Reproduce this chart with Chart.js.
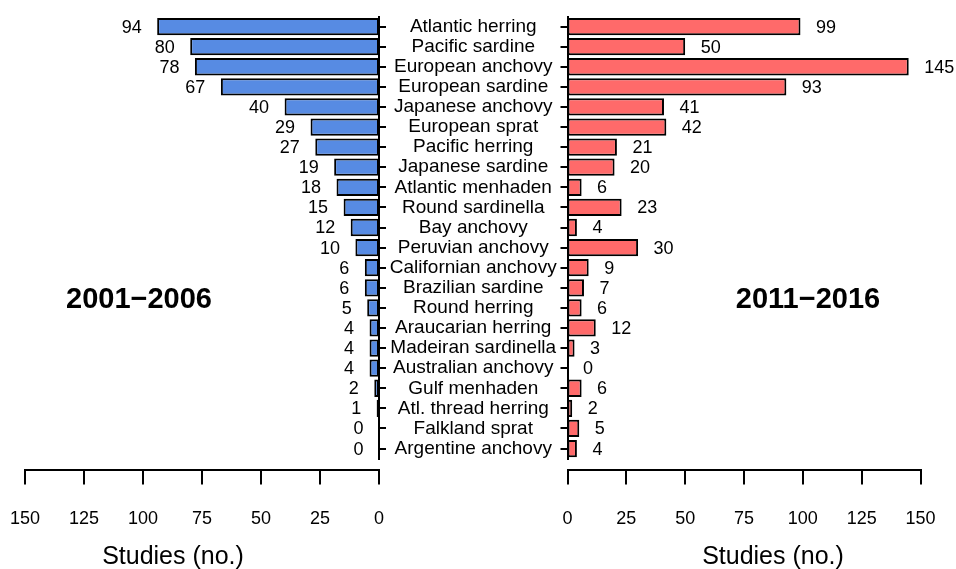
<!DOCTYPE html>
<html>
<head>
<meta charset="utf-8">
<script src="https://cdn.jsdelivr.net/npm/chart.js@4/dist/chart.umd.min.js"></script>
<style>
  html, body { margin: 0; padding: 0; background: #fff; }
  #wrap { position: relative; width: 956px; height: 569px; overflow: hidden; }
  #wrap canvas { position: absolute; left: 0; top: 0; }
  .txt {
    position: absolute;
    transform: translate(-50%, -50%);
    font-family: "Liberation Sans", Arial, sans-serif;
    color: #000;
    white-space: nowrap;
    line-height: 1;
  }
  .period { font-size: 29px; font-weight: bold; }
  .xtitle { font-size: 25px; }
</style>
</head>
<body>
<div id="wrap">
  <canvas id="left" width="956" height="569"></canvas>
  <canvas id="right" width="956" height="569"></canvas>
  <div class="txt period" style="left:139px; top:298px;">2001−2006</div>
  <div class="txt period" style="left:808px; top:298px;">2011−2016</div>
  <div class="txt xtitle" style="left:173px; top:555px;">Studies (no.)</div>
  <div class="txt xtitle" style="left:773px; top:555px;">Studies (no.)</div>
</div>
<script>
  // species, top to bottom
  const species = [
    "Atlantic herring", "Pacific sardine", "European anchovy", "European sardine",
    "Japanese anchovy", "European sprat", "Pacific herring", "Japanese sardine",
    "Atlantic menhaden", "Round sardinella", "Bay anchovy", "Peruvian anchovy",
    "Californian anchovy", "Brazilian sardine", "Round herring", "Araucarian herring",
    "Madeiran sardinella", "Australian anchovy", "Gulf menhaden", "Atl. thread herring",
    "Falkland sprat", "Argentine anchovy"
  ];
  const studies2001_2006 = [94, 80, 78, 67, 40, 29, 27, 19, 18, 15, 12, 10, 6, 6, 5, 4, 4, 4, 2, 1, 0, 0];
  const studies2011_2016 = [99, 50, 145, 93, 41, 42, 21, 20, 6, 23, 4, 30, 9, 7, 6, 12, 3, 0, 6, 2, 5, 4];
  const xTickValues = [0, 25, 50, 75, 100, 125, 150];

  const FONT = '"Liberation Sans", Arial, sans-serif';
  const BLUE = "#578be3";
  const RED = "#ff6a6a";

  // center the species names between the two axis lines
  const mctx = document.createElement("canvas").getContext("2d");
  mctx.font = "19px " + FONT;
  const widest = Math.max(...species.map((s) => mctx.measureText(s).width));
  const labelPad = 94.25 - 7 - widest / 2;

  // numbers next to the bar ends
  const valueLabels = {
    id: "valueLabels",
    afterDatasetsDraw(chart, args, opts) {
      const ctx = chart.ctx;
      const meta = chart.getDatasetMeta(0);
      const vals = chart.data.datasets[0].data;
      ctx.save();
      ctx.font = "18px " + FONT;
      ctx.fillStyle = "#000";
      ctx.textBaseline = "middle";
      ctx.textAlign = opts.side < 0 ? "right" : "left";
      meta.data.forEach((bar, i) => {
        ctx.fillText(String(vals[i]), bar.x + opts.side * 15.5, bar.y + 1);
      });
      ctx.restore();
    },
  };

  function panel(canvasId, values, color, isLeft) {
    const xCommon = {
      type: "linear",
      min: 0,
      max: 150,
      reverse: isLeft,
    };
    return new Chart(document.getElementById(canvasId), {
      type: "bar",
      data: {
        labels: species,
        datasets: [{
          data: values,
          backgroundColor: color,
          borderColor: "#000",
          borderWidth: 2,
          borderSkipped: false,
          barPercentage: 0.86,
          categoryPercentage: 1,
        }],
      },
      plugins: [valueLabels],
      options: {
        indexAxis: "y",
        responsive: false,
        animation: false,
        events: [],
        layout: {
          padding: isLeft
            ? { top: 16.5, bottom: 37.4, left: 25, right: 388 }
            : { top: 16.5, bottom: 37.4, left: 557.5, right: 35.5 },
        },
        plugins: {
          legend: { display: false },
          tooltip: { enabled: false },
          valueLabels: { side: isLeft ? -1 : 1 },
        },
        scales: {
          y: {
            type: "category",
            position: isLeft ? "right" : "left",
            offset: true,
            grid: {
              display: true,
              offset: false,
              drawOnChartArea: false,
              drawTicks: true,
              tickLength: 7,
              color: "#000",
              lineWidth: 2,
            },
            border: { display: true, color: "#000", width: 2 },
            ticks: {
              display: isLeft,
              autoSkip: false,
              crossAlign: "center",
              padding: labelPad,
              color: "#000",
              font: { family: FONT, size: 19 },
            },
            afterFit(scale) {
              scale.width = isLeft ? 189 : 10;
              scale.paddingTop = 0;
              scale.paddingBottom = 0;
            },
          },
          gap: Object.assign({}, xCommon, {
            axis: "x",
            position: "bottom",
            weight: 0,
            grid: { display: false },
            border: { display: false },
            ticks: { display: false },
            afterFit(scale) {
              scale.height = 11;
              scale.paddingLeft = 0;
              scale.paddingRight = 0;
            },
          }),
          x: Object.assign({}, xCommon, {
            position: "bottom",
            weight: 5,
            grid: {
              display: true,
              drawOnChartArea: false,
              drawTicks: true,
              tickLength: 15,
              color: "#000",
              lineWidth: 2,
            },
            border: { display: true, color: "#000", width: 2 },
            afterBuildTicks(scale) {
              scale.ticks = xTickValues.map((v) => ({ value: v }));
            },
            ticks: {
              padding: 24,
              color: "#000",
              maxRotation: 0,
              autoSkip: false,
              font: { family: FONT, size: 18 },
            },
            afterFit(scale) {
              scale.height = 62;
              scale.paddingLeft = 0;
              scale.paddingRight = 0;
            },
          }),
        },
      },
    });
  }

  panel("left", studies2001_2006, BLUE, true);
  panel("right", studies2011_2016, RED, false);
</script>
</body>
</html>
